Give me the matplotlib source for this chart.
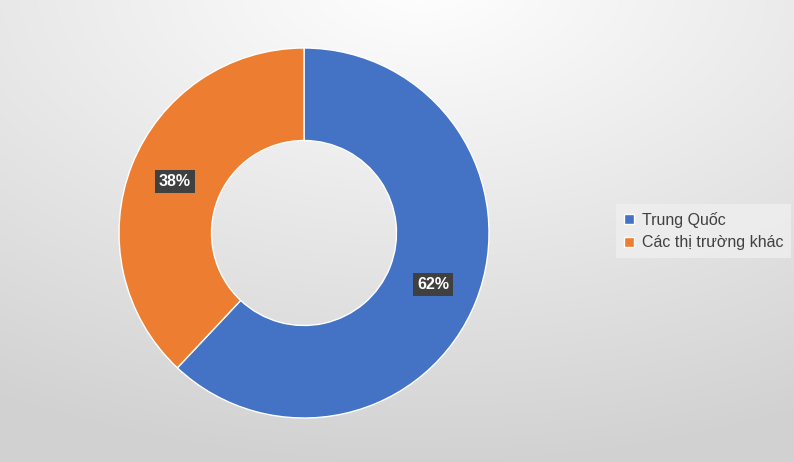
import numpy as np
import matplotlib.pyplot as plt

labels = ["Trung Quốc", "Các thị trường khác"]
values = [62, 38]
colors = ["#4472C4", "#ED7D31"]

plt.rcParams['font.family'] = ['Liberation Sans', 'DejaVu Sans']

fig = plt.figure(figsize=(7.94, 4.62), dpi=100)

# radial gradient background
bg = fig.add_axes([0, 0, 1, 1])
yy, xx = np.mgrid[0:462, 0:794]
d = np.sqrt(((xx - 420) / 794.0) ** 2 + ((yy + 20) / 462.0) ** 2)
shade = np.clip(1.0 - 0.17 * d, 0.82, 1.0)
bg.imshow(np.dstack([shade] * 3), extent=[0, 1, 0, 1], aspect="auto")
bg.axis("off")

ax = fig.add_axes([119 / 794, 44 / 462, 370 / 794, 370 / 462])
wedges, _ = ax.pie(values, colors=colors, startangle=90, counterclock=False,
                   wedgeprops=dict(width=0.5, edgecolor="white", linewidth=1))
ax.set_xlim(-1, 1)
ax.set_ylim(-1, 1)
ax.set_aspect("equal")

for w, v in zip(wedges, values):
    ang = np.deg2rad((w.theta1 + w.theta2) / 2)
    r = 0.75
    ax.text(r * np.cos(ang), r * np.sin(ang), f"{v}%", ha="center", va="center",
            color="white", fontsize=11.5, fontweight="bold",
            bbox=dict(boxstyle="square,pad=0.25", fc="#404040", ec="none"))

fig.legend(wedges, labels, loc="center left", bbox_to_anchor=(608 / 794, 0.5),
           frameon=True, fancybox=False, edgecolor="none", facecolor="#efefef",
           fontsize=11.5, handlelength=0.6, handleheight=0.6, handletextpad=0.5,
           labelcolor="#404040", borderpad=0.5)

fig.savefig("out.png", dpi=100)
